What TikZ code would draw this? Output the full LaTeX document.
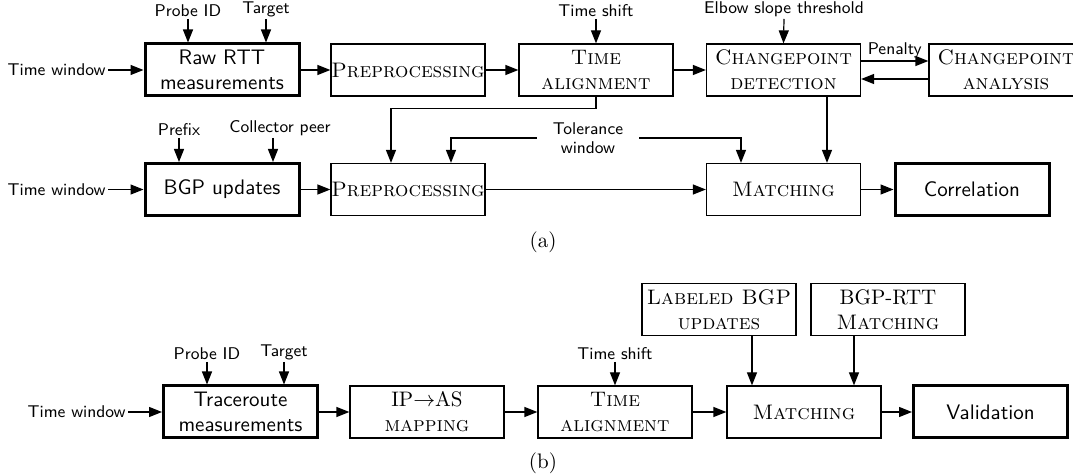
\documentclass[tikz,border=0pt]{standalone}
\usetikzlibrary{arrows.meta}
\newcommand\bxfont{\fontsize{10.5}{12.5}\selectfont}
\newcommand\lblfont{\sffamily\fontsize{8.5}{9.6}\selectfont}
\begin{document}
\begin{tikzpicture}[x=0.5pt,y=-0.5pt,
  box/.style={draw, line width=0.6pt, minimum width=77pt, minimum height=26pt, inner sep=0pt, align=center, font=\bxfont},
  sbox/.style={box, line width=1.5pt, font=\bxfont\sffamily},
  lbl/.style={font=\lblfont, inner sep=1pt},
  arr/.style={-{Triangle[length=6.5pt,width=5pt]}, line width=0.6pt}]
\useasboundingbox (0,0) rectangle (1073,475);
\clip (0,0) rectangle (1073,475);
% (a) top row
\node[sbox] (raw) at (222,70) {Raw RTT\\measurements};
\node[box] (pre1) at (408,70) {\textsc{Preprocessing}};
\node[box] (ta1) at (596,70) {\textsc{Time}\\\textsc{alignment}};
\node[box] (cpd) at (783.5,70) {\textsc{Changepoint}\\\textsc{detection}};
\node[box] (cpa) at (1006,70) {\textsc{Changepoint}\\\textsc{analysis}};
% (a) bottom row
\node[sbox] (bgp) at (222,189.5) {BGP updates};
\node[box] (pre2) at (408,189.5) {\textsc{Preprocessing}};
\node[box] (m1) at (783.5,189.5) {\textsc{Matching}};
\node[sbox] (corr) at (972,189.5) {Correlation};
% labels (a)
\node[lbl, anchor=east] (tw1) at (108,70) {Time window};
\node[lbl, anchor=south] (pid1) at (188,19) {Probe ID};
\node[lbl, anchor=south] (tg1) at (266,19) {Target};
\node[lbl, anchor=south] (ts1) at (596,19) {Time shift};
\node[lbl, anchor=south] (el) at (784,19) {Elbow slope threshold};
\node[lbl, anchor=east] (tw2) at (108,189.5) {Time window};
\node[lbl, anchor=south] (pf) at (179,138) {Prefix};
\node[lbl, anchor=south] (cp) at (280,138) {Collector peer};
\node[lbl, align=center, inner xsep=8pt, inner ysep=1pt] (tol) at (588,138) {Tolerance\\window};
% connectors (a)
\draw[arr] (tw1) -- (raw);
\draw[arr] (pid1.south) -- (pid1.south |- raw.north);
\draw[arr] (tg1.south) -- (tg1.south |- raw.north);
\draw[arr] (raw) -- (pre1);
\draw[arr] (pre1) -- (ta1);
\draw[arr] (ta1) -- (cpd);
\draw[arr] (ts1.south) -- (ta1.north);
\draw[arr] (el.south) -- (cpd.north);
\draw[arr] ([yshift=4.5pt]cpd.east) -- node[lbl, above] (pen) {Penalty} ([yshift=4.5pt]cpa.west);
\draw[arr] ([yshift=-4.5pt]cpa.west) -- ([yshift=-4.5pt]cpd.east);
\draw[arr] (tw2) -- (bgp);
\draw[arr] (pf.south) -- (pf.south |- bgp.north);
\draw[arr] ([xshift=-3.5pt]cp.south) -- ([xshift=-3.5pt]cp.south |- bgp.north);
\draw[arr] (bgp) -- (pre2);
\draw[arr] (ta1.south) -- ++(0,12) -| ([xshift=-8.5pt]pre2.north);
\draw[arr] (tol.west) -| ([xshift=21.5pt]pre2.north);
\draw[arr] (tol.east) -| ([xshift=-21.25pt]m1.north);
\draw[arr] ([xshift=21.75pt]cpd.south) -- ([xshift=21.75pt]m1.north);
\draw[arr] (pre2) -- (m1);
\draw[arr] (m1) -- (corr);
\node[font=\bxfont] (la) at (543,242) {(a)};
% (b)
\node[sbox] (tr) at (240.5,412) {Traceroute\\measurements};
\node[box] (ipas) at (427,412) {IP$\rightarrow$AS\\\textsc{mapping}};
\node[box] (ta2) at (615,412) {\textsc{Time}\\\textsc{alignment}};
\node[box] (m2) at (804,412) {\textsc{Matching}};
\node[sbox] (val) at (990.5,412) {Validation};
\node[box] (lab) at (719,309.5) {\textsc{Labeled BGP}\\\textsc{updates}};
\node[box] (br) at (888,309.5) {BGP-RTT\\\textsc{Matching}};
\node[lbl, anchor=east] (tw3) at (128,412) {Time window};
\node[lbl, anchor=south] (pid2) at (207,362) {Probe ID};
\node[lbl, anchor=south] (tg2) at (284,362) {Target};
\node[lbl, anchor=south] (ts2) at (615,362) {Time shift};
\draw[arr] (tw3) -- (tr);
\draw[arr] (pid2.south) -- (pid2.south |- tr.north);
\draw[arr] (tg2.south) -- (tg2.south |- tr.north);
\draw[arr] (tr) -- (ipas);
\draw[arr] (ipas) -- (ta2);
\draw[arr] (ts2.south) -- (ta2.north);
\draw[arr] (ta2) -- (m2);
\draw[arr] (m2) -- (val);
\draw[arr] ([xshift=16.5pt]lab.south) -- ([xshift=16.5pt]lab.south |- m2.north);
\draw[arr] ([xshift=-17pt]br.south) -- ([xshift=-17pt]br.south |- m2.north);
\node[font=\bxfont] (lb) at (543,463) {(b)};
\end{tikzpicture}
\end{document}
